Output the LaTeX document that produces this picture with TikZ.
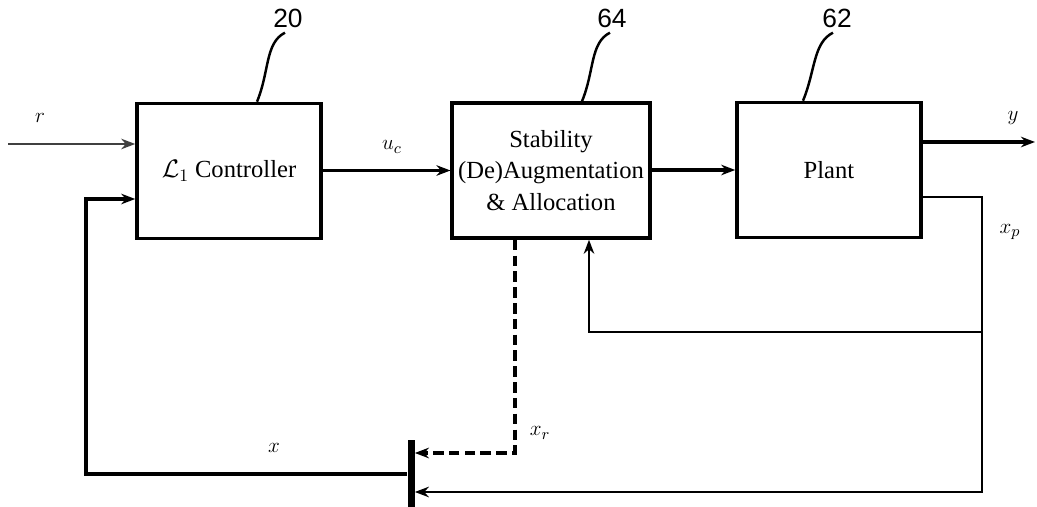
\documentclass[tikz,border=0pt]{standalone}
\usepackage{fontspec}
\setmainfont{Liberation Serif}
\newfontfamily\calloutfont{Liberation Sans}
\usetikzlibrary{arrows.meta, positioning}

\begin{document}
\begin{tikzpicture}[
    block/.style={rectangle, draw, line width=2pt, minimum width=3.68cm, minimum height=2.7cm, align=center, font=\fontsize{14}{18}\selectfont},
    arr/.style={-{Stealth[length=8pt,width=6pt]}, line width=1.8pt},
    thin arr/.style={-{Stealth[length=8pt,width=6pt]}, line width=1.2pt},
    sig/.style={font=\fontsize{13}{15}\selectfont},
    callout/.style={font=\calloutfont\fontsize{15}{18}\selectfont, inner sep=0pt},
    lead/.style={line width=1.4pt}
]
    \useasboundingbox (0,0) rectangle (20.74,-10.14);

    % blocks
    \node[block] (ctrl) at (4.58,-3.42) {$\mathcal{L}_1$ Controller};
    \node[block, minimum width=3.64cm] (stab) at (11.02,-3.41) {Stability\\(De)Augmentation\\\& Allocation};
    \node[block] (plant) at (16.58,-3.40) {Plant};
    \node[rectangle, fill=black, minimum width=0.14cm, minimum height=1.34cm, inner sep=0pt] (bar) at (8.22,-9.47) {};

    % callouts
    \node[callout] (n20) at (5.76,-0.36) {20};
    \node[callout] (n64) at (12.24,-0.36) {64};
    \node[callout] (n62) at (16.74,-0.36) {62};
    \draw[lead] ([xshift=-0.06cm,yshift=-0.1cm]n20.south) .. controls +(-0.4,-0.2) and +(0.25,0.6) .. ([xshift=0.56cm]ctrl.north);
    \draw[lead] ([xshift=-0.04cm,yshift=-0.1cm]n64.south) .. controls +(-0.4,-0.2) and +(0.25,0.6) .. ([xshift=0.62cm]stab.north);
    \draw[lead] ([xshift=-0.08cm,yshift=-0.1cm]n62.south) .. controls +(-0.4,-0.2) and +(0.25,0.6) .. ([xshift=-0.52cm]plant.north);

    % free ends and corners
    \coordinate (rin) at (0.16,-2.88);
    \coordinate (yout) at (20.7,-2.84);
    \coordinate (xpc) at (19.64,-3.94);
    \coordinate (xpj) at (19.64,-6.64);
    \coordinate (xpb) at (19.64,-9.84);
    \coordinate (xl) at (1.72,-9.48);
    \coordinate (xrc) at (10.30,-9.06);
    \coordinate (fbc) at (11.78,-6.64);

    % forward path
    \draw[thin arr, draw=black!75] (rin) -- (rin -| ctrl.west);
    \draw[arr] (ctrl.east |- stab.west) -- (stab.west);
    \draw[arr] (stab.east |- plant.west) -- (plant.west);
    \draw[arr] (yout -| plant.east) -- (yout);

    % feedback
    \draw[thin arr] (xpc -| plant.east) -- (xpc) -- (xpb) -- (xpb -| bar.east);
    \draw[thin arr] (xpj) -- (fbc) -- (fbc |- stab.south);
    \draw[arr, dash pattern=on 6pt off 3pt] (xrc |- stab.south) -- (xrc) -- (xrc -| bar.east);
    \draw[arr] (bar.west |- xl) -- (xl) -- (1.72,-3.98) -- (1.72,-3.98 -| ctrl.west);

    % signal labels
    \node[sig] (lr) at (0.80,-2.36) {$r$};
    \node[sig] (luc) at (7.84,-2.94) {$u_c$};
    \node[sig] (ly) at (20.26,-2.36) {$y$};
    \node[sig] (lxp) at (20.20,-4.64) {$x_p$};
    \node[sig] (lx) at (5.48,-8.96) {$x$};
    \node[sig] (lxr) at (10.80,-8.66) {$x_r$};
\end{tikzpicture}
\end{document}
